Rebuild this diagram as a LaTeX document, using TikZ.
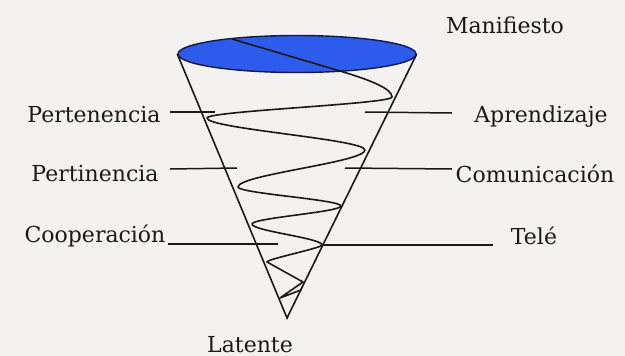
\documentclass[tikz,border=0pt]{standalone}
\usepackage{fontspec}
\setmainfont{DejaVu Serif}
\usetikzlibrary{shapes.geometric}
\definecolor{bgcol}{RGB}{243,242,241}
\definecolor{topblue}{RGB}{45,92,236}
\definecolor{navy}{RGB}{20,24,70}
\definecolor{ink}{RGB}{25,25,25}
\tikzset{
  lbl/.style={anchor=base, inner sep=0pt, text=ink, font=\fontsize{22}{26}\selectfont},
  edge/.style={draw=ink, line width=1.6pt},
  spiral/.style={draw=ink, line width=1.6pt, line join=round},
  tick/.style={draw=ink, line width=1.5pt}
}
\begin{document}
\begin{tikzpicture}[x=1pt,y=-1pt]
\useasboundingbox (0,0) rectangle (625,356);
\fill[bgcol] (0,0) rectangle (625,356);
% top ellipse and cone
\node[ellipse, draw=navy, line width=1.4pt, fill=topblue, minimum width=238pt, minimum height=37pt, inner sep=0pt] (top) at (297,54) {};
\coordinate (apex) at (287,318);
\draw[edge] (top.west) -- (apex) -- (top.east);
% spiral
\draw[spiral] (232,39) -- (340,71) .. controls (372,80.5) and (392,89) .. (392,97)
  .. controls +(0,7) and +(0,-7) .. (207,118)
  .. controls +(0,10.7) and +(0,-10.7) .. (365,150)
  .. controls +(0,12.3) and +(0,-12.3) .. (238,187)
  .. controls +(0,6.3) and +(0,-6.3) .. (341,206)
  .. controls +(0,6) and +(0,-6) .. (252,224)
  .. controls +(0,7) and +(0,-7) .. (322,245)
  .. controls +(0,3) and +(0,-3) .. (267,262)
  -- (303,282) -- (280,298) -- (301,290);
% labels
\node[lbl] (man) at (505,33) {Manifiesto};
\node[lbl] (apr) at (541,122) {Aprendizaje};
\node[lbl] (com) at (535,182) {Comunicación};
\node[lbl] (tele) at (534,244) {Telé};
\node[lbl] (pert) at (94,122) {Pertenencia};
\node[lbl] (perti) at (95,181) {Pertinencia};
\node[lbl] (coop) at (95,242) {Cooperación};
\node[lbl] (lat) at (250,352) {Latente};
% label lines
\coordinate (a1) at (170,112); \coordinate (a2) at (215,112);
\coordinate (b1) at (365,112); \coordinate (b2) at (452,113);
\coordinate (c1) at (170,169); \coordinate (c2) at (237,168);
\coordinate (d1) at (345,168); \coordinate (d2) at (452,169);
\coordinate (e1) at (168,244); \coordinate (e2) at (278,244);
\coordinate (f1) at (322,245); \coordinate (f2) at (493,245);
\draw[tick] (a1) -- (a2);
\draw[tick] (b1) -- (b2);
\draw[tick] (c1) -- (c2);
\draw[tick] (d1) -- (d2);
\draw[tick] (e1) -- (e2);
\draw[tick] (f1) -- (f2);
\end{tikzpicture}
\end{document}
